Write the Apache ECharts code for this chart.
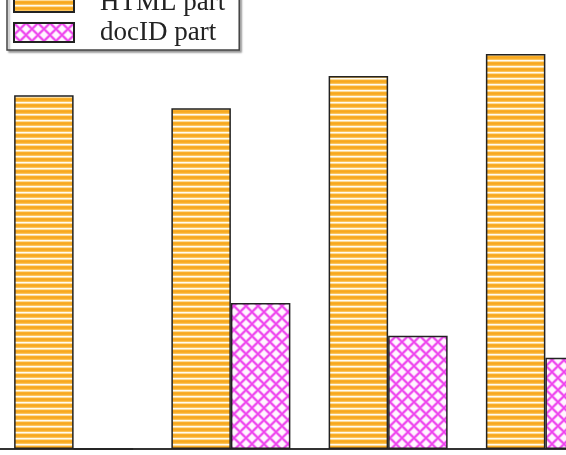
<!DOCTYPE html>
<html>
<head>
<meta charset="utf-8">
<script src="https://cdn.jsdelivr.net/npm/echarts@6/dist/echarts.min.js"></script>
<style>
  html, body { margin: 0; padding: 0; background: #fff; }
  #main { width: 566px; height: 455px; }
</style>
</head>
<body>
<div id="main"></div>
<script>
// data (y axis is cropped, units are relative, 0..100 = plot height)
const categories = ['1', '2', '3', '4'];
const seriesNames = ['HTML part', 'docID part'];
const htmlPart = [78.8, 75.9, 83.1, 88.0];
const docIdPart = [0, 32.5, 25.2, 20.3];

// horizontal orange stripes
function stripePattern() {
  const c = document.createElement('canvas');
  c.width = 6; c.height = 6;
  const ctx = c.getContext('2d');
  const rows = ['#FFFBEF', '#FDDC9A', '#F9AE2A', '#F7A81E', '#F9AE2A', '#FBC45C'];
  rows.forEach((col, i) => { ctx.fillStyle = col; ctx.fillRect(0, i, 6, 1); });
  return c;
}

// magenta cross hatch
function hatchPattern() {
  const s = 12;
  const c = document.createElement('canvas');
  c.width = s; c.height = s;
  const ctx = c.getContext('2d');
  ctx.fillStyle = '#FFF6FF';
  ctx.fillRect(0, 0, s, s);
  const pass = (col, w) => {
    ctx.strokeStyle = col;
    ctx.lineWidth = w;
    for (let k = -1; k <= 1; k++) {
      ctx.beginPath();
      ctx.moveTo(k * s, 0); ctx.lineTo(k * s + s, s);
      ctx.moveTo(k * s + s, 0); ctx.lineTo(k * s, s);
      ctx.stroke();
    }
  };
  pass('#F8B8F8', 3.4);
  pass('#EE44EE', 1.6);
  return c;
}

let chart = echarts.init(document.getElementById('main'));

let option = {
  animation: false,
  backgroundColor: '#fff',
  // plot runs past the right edge of the picture (it is cropped)
  grid: { left: -5, width: 629, top: 0, bottom: 6, outerBoundsMode: 'none' },
  legend: {
    orient: 'vertical',
    left: 7,
    top: -17,
    icon: 'rect',
    itemWidth: 60,
    itemHeight: 19,
    itemGap: 3,
    padding: [6, 14, 4, 6],
    borderColor: '#444',
    borderWidth: 1.5,
    backgroundColor: '#fff',
    shadowColor: 'rgba(0,0,0,0.35)',
    shadowBlur: 2,
    shadowOffsetX: 2,
    shadowOffsetY: 2,
    textStyle: {
      fontFamily: 'Liberation Serif',
      fontSize: 27,
      color: '#222',
      padding: [0, 0, 0, 21]
    },
    data: seriesNames
  },
  xAxis: {
    type: 'category',
    data: categories,
    axisTick: { show: false },
    axisLabel: { show: false },
    axisLine: { lineStyle: { color: '#333', width: 2 } }
  },
  yAxis: {
    type: 'value',
    min: 0,
    max: 100,
    show: false,
    splitLine: { show: false }
  },
  series: [
    {
      name: seriesNames[0],
      type: 'bar',
      data: htmlPart,
      barWidth: 59.5,
      barGap: '0%',
      itemStyle: {
        color: { image: stripePattern(), repeat: 'repeat' },
        borderColor: '#222',
        borderWidth: 1.5
      }
    },
    {
      name: seriesNames[1],
      type: 'bar',
      data: docIdPart,
      barWidth: 59.5,
      barGap: '0%',
      itemStyle: {
        color: { image: hatchPattern(), repeat: 'repeat' },
        borderColor: '#222',
        borderWidth: 1.5
      }
    }
  ]
};

option && chart.setOption(option);
</script>
</body>
</html>
